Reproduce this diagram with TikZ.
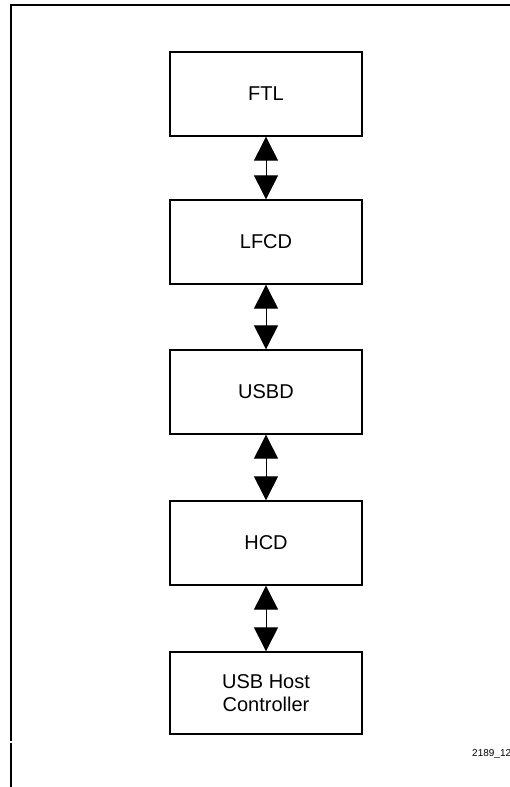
\documentclass[tikz,border=0pt]{standalone}
\usepackage{fontspec}
\setmainfont{Liberation Sans}
\usetikzlibrary{arrows.meta}
\begin{document}
\begin{tikzpicture}[x=1pt,y=-1pt,
  blk/.style={draw, line width=1.3pt, minimum width=192pt, minimum height=84pt,
    inner sep=0pt, align=center, font=\fontsize{20}{23}\selectfont},
  link/.style={line width=1pt, {Triangle[width=24pt,length=24pt]}-{Triangle[width=24pt,length=24pt]}},
  frame/.style={line width=2pt}]
\useasboundingbox (0,0) rectangle (510,787);
\node[blk] (ftl) at (266,94) {FTL};
\node[blk] (lfcd) at (266,242) {LFCD};
\node[blk] (usbd) at (266,392) {USBD};
\node[blk] (hcd) at (266,543) {HCD};
\node[blk, minimum height=82pt] (uhc) at (266,693) {USB Host\\Controller};
\draw[link] (ftl.south) -- (lfcd.north);
\draw[link] (lfcd.south) -- (usbd.north);
\draw[link] (usbd.south) -- (hcd.north);
\draw[link] (hcd.south) -- (uhc.north);
\coordinate (tl) at (11,5);
\coordinate (tr) at (512,5);
\coordinate (g1) at (11,741);
\coordinate (g2) at (11,743);
\coordinate (bl) at (11,789);
\draw[frame] (tr) -- (tl) -- (g1);
\draw[frame] (g2) -- (bl);
\node[anchor=base west, inner sep=0pt, font=\fontsize{10}{12}\selectfont] (lbl) at (472,756) {2189\_12};
\end{tikzpicture}
\end{document}
